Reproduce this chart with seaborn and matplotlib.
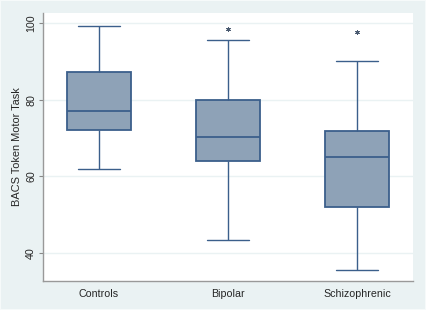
import numpy as np
import pandas as pd
import matplotlib
matplotlib.use("Agg")
import matplotlib.pyplot as plt
import seaborn as sns
from matplotlib.patches import Rectangle

categories = ["Controls", "Bipolar", "Schizophrenic"]
lower_whisker = [62.0, 43.4, 35.6]
q1 = [72.1, 64.0, 52.0]
median = [77.2, 70.2, 65.2]
q3 = [87.3, 80.0, 72.0]
upper_whisker = [99.2, 95.6, 90.1]
outlier_groups = ["Bipolar", "Schizophrenic"]
outlier_values = [98.5, 97.7]
y_ticks = [40, 60, 80, 100]

rows = []
for i, c in enumerate(categories):
    for v in (lower_whisker[i], q1[i], median[i], q3[i], upper_whisker[i]):
        rows.append({"group": c, "score": v})
df = pd.DataFrame(rows)
out_df = pd.DataFrame({"group": outlier_groups, "score": outlier_values})

sns.set_style("white")
plt.rcParams["font.family"] = ["Liberation Sans", "DejaVu Sans"]

bg = "#eaf2f3"
fill = "#8ea2b7"
edge = "#3b5f8b"

fig = plt.figure(figsize=(4.26, 3.10), dpi=100, facecolor=bg)
fig.patches.append(Rectangle((0, 0), 1, 1, transform=fig.transFigure,
                             fill=False, edgecolor="#f6fafa", linewidth=1.5, zorder=10))
ax = fig.add_axes([0.101, 0.0935, 0.868, 0.8655])
ax.set_facecolor("white")

for t in y_ticks:
    ax.axhline(t, color=bg, lw=1.0, zorder=0)

sns.boxplot(data=df, x="group", y="score", order=categories, ax=ax,
            whis=np.inf, width=0.49, color=fill, saturation=1,
            linecolor=edge, linewidth=1.0,
            boxprops=dict(facecolor=fill, edgecolor=edge, linewidth=1.3),
            medianprops=dict(color=edge, linewidth=1.3),
            whiskerprops=dict(color=edge, linewidth=1.0),
            capprops=dict(color=edge, linewidth=1.0),
            capwidths=0.33, zorder=2)

sns.stripplot(data=out_df, x="group", y="score", order=categories, ax=ax,
              jitter=False, color="#4a5a70", marker=(6, 2, 0), size=2.8,
              linewidth=0.7, edgecolor="#4a5a70", zorder=3)

ax.set_xlim(-0.433, 2.433)
ax.set_ylim(32.68, 102.8)
ax.set_yticks(y_ticks)
ax.set_yticklabels([str(t) for t in y_ticks], rotation=90, va="center", fontsize=7.7)
ax.tick_params(axis="y", length=3, width=0.8, color="#888888", pad=2, left=True)
ax.tick_params(axis="x", length=0, labelsize=7.7, pad=6)
ax.set_xlabel("")
ax.set_ylabel("BACS Token Motor Task", fontsize=7.9, labelpad=3)

for s in ["top", "right"]:
    ax.spines[s].set_visible(False)
for s in ["left", "bottom"]:
    ax.spines[s].set_color("#999999")
    ax.spines[s].set_linewidth(1.0)

fig.savefig("out.png", dpi=100, facecolor=bg)
